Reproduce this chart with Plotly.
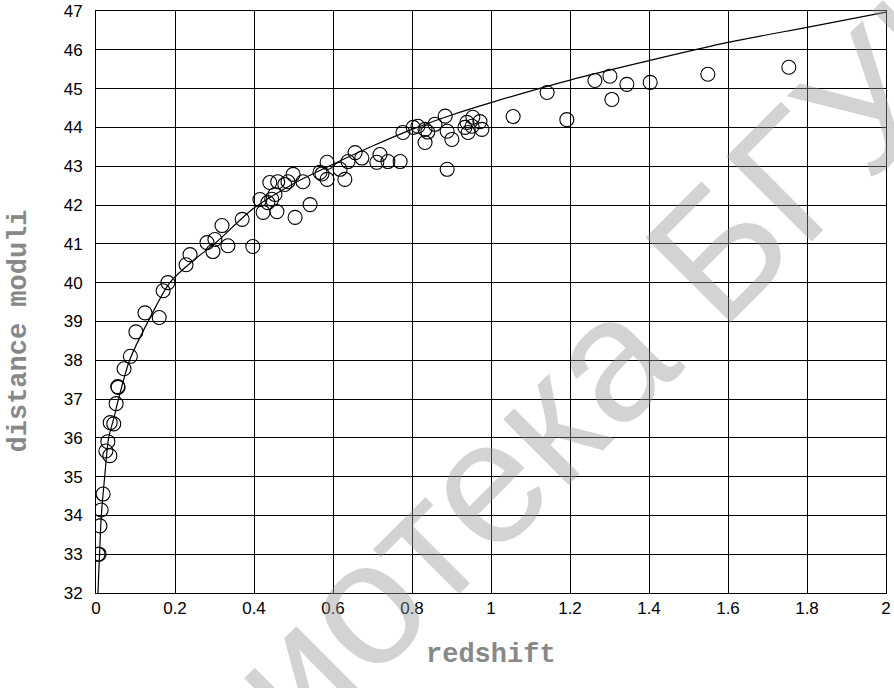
import plotly.graph_objects as go

# observed data (redshift, distance modulus)
obs_z = [0.005, 0.008, 0.010, 0.013, 0.018, 0.025, 0.030, 0.035, 0.036, 0.045,
         0.051, 0.055, 0.056, 0.071, 0.087, 0.101, 0.124, 0.160, 0.170, 0.182,
         0.228, 0.238, 0.281, 0.296, 0.301, 0.319, 0.334, 0.370, 0.397, 0.415,
         0.423, 0.435, 0.440, 0.445, 0.453, 0.458, 0.460, 0.478, 0.486, 0.499,
         0.504, 0.524, 0.542, 0.567, 0.572, 0.585, 0.585, 0.618, 0.630, 0.638,
         0.656, 0.673, 0.711, 0.719, 0.739, 0.770, 0.777, 0.803, 0.815, 0.833,
         0.833, 0.840, 0.858, 0.884, 0.889, 0.889, 0.901, 0.934, 0.939, 0.942,
         0.952, 0.954, 0.972, 0.977, 1.056, 1.142, 1.192, 1.263, 1.301, 1.306,
         1.344, 1.403, 1.549, 1.754]
obs_mu = [33.00, 33.00, 33.73, 34.14, 34.55, 35.66, 35.90, 35.54, 36.39, 36.36,
          36.88, 37.32, 37.30, 37.78, 38.10, 38.73, 39.22, 39.10, 39.79, 40.00,
          40.46, 40.72, 41.03, 40.80, 41.11, 41.47, 40.95, 41.63, 40.93, 42.14,
          41.81, 42.06, 42.58, 42.15, 42.27, 41.83, 42.60, 42.53, 42.60, 42.79,
          41.68, 42.60, 42.01, 42.84, 42.80, 42.66, 43.10, 42.92, 42.66, 43.12,
          43.35, 43.21, 43.10, 43.30, 43.12, 43.12, 43.87, 44.00, 44.03, 43.95,
          43.61, 43.88, 44.08, 44.29, 43.90, 42.92, 43.69, 44.00, 44.13, 43.87,
          44.03, 44.26, 44.15, 43.95, 44.28, 44.90, 44.20, 45.21, 45.32, 44.72,
          45.11, 45.16, 45.37, 45.55]

# model curve
model_z = [0.0028, 0.005, 0.009, 0.0135, 0.022, 0.032, 0.045, 0.057, 0.085,
           0.132, 0.187, 0.25, 0.30, 0.40, 0.50, 0.60, 0.70, 0.80, 0.90, 1.00,
           1.20, 1.40, 1.60, 1.80, 2.00]
model_mu = [31.0, 32.0, 33.0, 34.0, 35.0, 36.0, 36.5, 37.0, 38.0,
            39.0, 40.0, 40.6, 41.0, 41.92, 42.55, 43.05, 43.52, 43.95, 44.32, 44.64,
            45.22, 45.72, 46.19, 46.58, 46.97]

x_ticks = [0, 0.2, 0.4, 0.6, 0.8, 1, 1.2, 1.4, 1.6, 1.8, 2]
x_labels = ["0", "0.2", "0.4", "0.6", "0.8", "1", "1.2", "1.4", "1.6", "1.8", "2"]
y_ticks = list(range(32, 48))

tick_font = dict(family="Liberation Sans", size=17, color="black")
title_font = dict(family="Liberation Mono", size=27, color="#888888", weight="bold")

fig = go.Figure()
fig.add_trace(go.Scatter(x=model_z, y=model_mu, mode="lines",
                         line=dict(color="black", width=1.2, shape="spline", smoothing=0.8),
                         hoverinfo="skip", showlegend=False))
fig.add_trace(go.Scatter(x=obs_z, y=obs_mu, mode="markers",
                         marker=dict(symbol="circle-open", size=14, color="black",
                                     line=dict(width=1.1, color="black")),
                         showlegend=False))

fig.add_annotation(text="Библиотека БГУИР", xref="paper", yref="paper",
                   x=0.5405, y=0.256, xanchor="center", yanchor="middle",
                   showarrow=False, textangle=-45,
                   font=dict(family="Liberation Sans", size=175, color="rgba(150,150,150,0.42)"))

fig.add_annotation(text="redshift", xref="paper", yref="paper",
                   x=0.5, y=-0.107, xanchor="center", yanchor="middle",
                   showarrow=False, font=title_font)
fig.add_annotation(text="distance moduli", xref="paper", yref="paper",
                   x=-0.097, y=0.45, xanchor="center", yanchor="middle",
                   showarrow=False, textangle=-90, font=title_font)

fig.update_layout(
    width=894, height=688,
    margin=dict(l=96, r=8, t=11, b=95),
    paper_bgcolor="white", plot_bgcolor="white",
    xaxis=dict(range=[0, 2], tickvals=x_ticks, ticktext=x_labels, automargin=False,
               showgrid=True, gridcolor="black", gridwidth=1,
               showline=True, linecolor="black", linewidth=1, mirror=True,
               zeroline=False, ticks="", ticklabelstandoff=0,
               ticklabeloverflow="allow", tickfont=tick_font),
    yaxis=dict(range=[32, 47], tickvals=y_ticks, automargin=False,
               showgrid=True, gridcolor="black", gridwidth=1,
               showline=True, linecolor="black", linewidth=1, mirror=True,
               zeroline=False, ticks="", ticklabelstandoff=9,
               ticklabeloverflow="allow", tickfont=tick_font),
)

# remove the default page margin so the figure fills the window exactly
fig.write_html("out.html", config={"displayModeBar": False},
               post_script="document.body.style.margin='0';document.body.style.overflow='hidden';")
